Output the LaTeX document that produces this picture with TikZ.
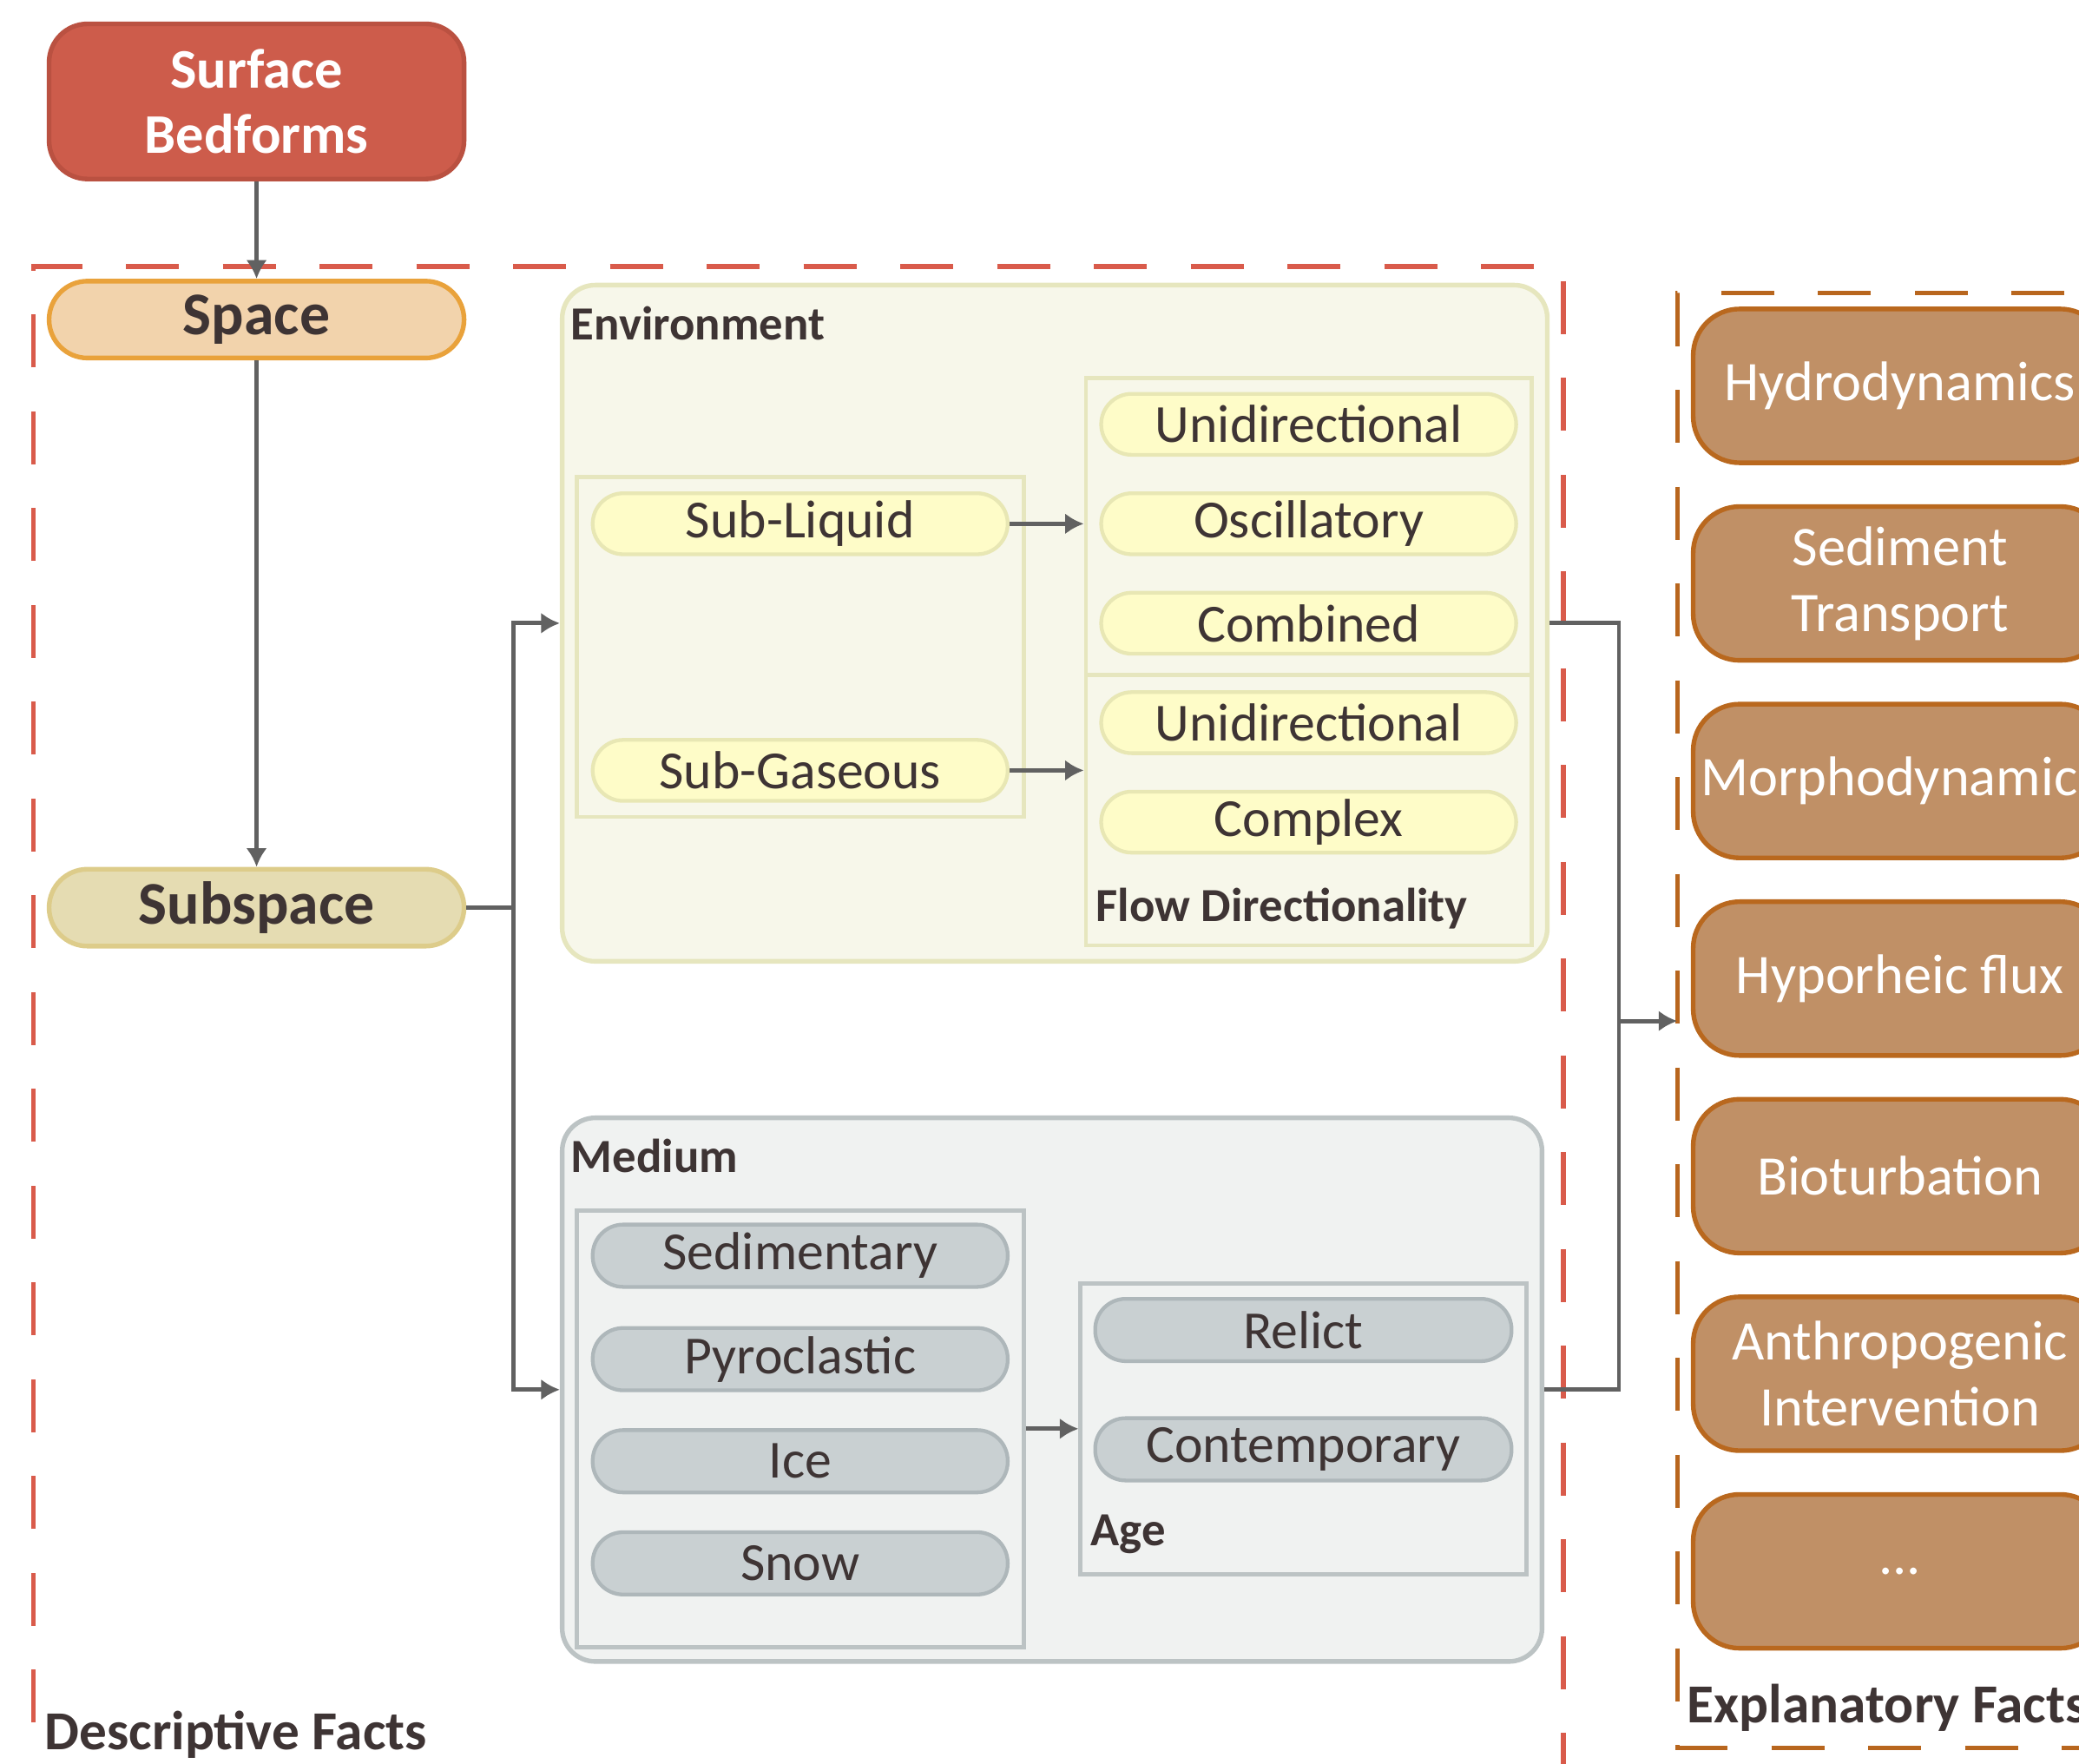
\documentclass[tikz,border=0pt]{standalone}
\usepackage{fontspec}
\setmainfont{Carlito}
\usepackage{xcolor}
\usetikzlibrary{arrows.meta, positioning, calc}

\definecolor{txtdark}{HTML}{3E3434}
\definecolor{linkgrey}{HTML}{616161}
\definecolor{sbfill}{HTML}{CD5C4B}
\definecolor{sbedge}{HTML}{BA5141}
\definecolor{spacefill}{HTML}{F2D3AC}
\definecolor{spaceedge}{HTML}{E9A23B}
\definecolor{subfill}{HTML}{E5DCB2}
\definecolor{subedge}{HTML}{DDCC8A}
\definecolor{envfill}{HTML}{F7F7EA}
\definecolor{envedge}{HTML}{E6E6BE}
\definecolor{envpillfill}{HTML}{FEFCC8}
\definecolor{envpilledge}{HTML}{E8E7B4}
\definecolor{medfill}{HTML}{F0F2F1}
\definecolor{mededge}{HTML}{BCC3C4}
\definecolor{medpillfill}{HTML}{C9D0D2}
\definecolor{medpilledge}{HTML}{AEB7BA}
\definecolor{explfill}{HTML}{C09066}
\definecolor{expledge}{HTML}{B9681E}
\definecolor{descdash}{HTML}{D95B4B}
\definecolor{expldash}{HTML}{B8661E}

\begin{document}
\begin{tikzpicture}[
    >=Latex,
    every node/.style={text=txtdark, font=\fontsize{11.5}{14}\selectfont},
    link/.style={draw=linkgrey, line width=0.9pt},
    arrowlink/.style={link, -{Latex[length=4pt,width=4.5pt]}},
    pill/.style={draw, line width=0.8pt, rounded corners=0.23cm,
        minimum width=3.13cm, minimum height=0.46cm, inner sep=0pt},
    envpill/.style={pill, fill=envpillfill, draw=envpilledge},
    medpill/.style={pill, fill=medpillfill, draw=medpilledge, minimum height=0.47cm},
    groupbox/.style={line width=1pt, inner sep=0pt},
    innerbox/.style={line width=0.9pt, inner sep=0pt, minimum width=3.37cm},
    grouplabel/.style={anchor=west, inner sep=0pt, font=\bfseries\fontsize{10.2}{12}\selectfont},
    factlabel/.style={anchor=west, inner sep=0pt, font=\bfseries\fontsize{11.8}{14}\selectfont},
    topbox/.style={draw, line width=1pt, rounded corners=0.29cm, minimum width=3.13cm,
        minimum height=0.58cm, inner sep=0pt, font=\bfseries\fontsize{13}{15}\selectfont},
    explbox/.style={draw=expledge, fill=explfill, line width=1pt, rounded corners=0.35cm,
        minimum width=3.12cm, minimum height=1.16cm, inner sep=0pt, align=center,
        text=white, font=\fontsize{12}{14.2}\selectfont},
    factframe/.style={line width=1pt, dash pattern=on 0.40cm off 0.33cm}
]

\useasboundingbox (0,0) rectangle (15.68,-13.30);
\clip (0,0) rectangle (15.68,-13.30);

% Frames
\draw[factframe, draw=descdash, dash phase=0.12cm] (0.25,-13.60) -- (0.25,-2.01) -- (11.79,-2.01) -- (11.79,-13.60);
\draw[factframe, draw=expldash, dash phase=0.10cm] (16.20,-2.21) -- (12.65,-2.21) -- (12.65,-13.18) -- (16.20,-13.18);

% Left column
\node[topbox, fill=sbfill, draw=sbedge, minimum height=1.17cm, text=white,
    align=center, font=\bfseries\fontsize{12}{14}\selectfont] (sb) at (1.935,-0.765) {Surface\\Bedforms};
\node[topbox, fill=spacefill, draw=spaceedge] (space) at (1.935,-2.41) {Space};
\node[topbox, fill=subfill, draw=subedge] (subspace) at (1.935,-6.845) {Subspace};

% Environment
\node[groupbox, draw=envedge, fill=envfill, rounded corners=0.25cm,
    minimum width=7.43cm, minimum height=5.10cm] (env) at (7.955,-4.70) {};
\node[grouplabel] (envlabel) at (4.30,-2.44) {Environment};
\node[innerbox, draw=envedge, fill=envfill, minimum height=2.56cm] (envsub) at (6.035,-4.88) {};
\node[innerbox, draw=envedge, fill=envfill, minimum width=3.36cm, minimum height=2.24cm] (flowup) at (9.87,-3.97) {};
\node[innerbox, draw=envedge, fill=envfill, minimum width=3.36cm, minimum height=2.04cm] (flowdown) at (9.87,-6.11) {};

\node[envpill] (liquid) at (6.035,-3.95) {Sub-Liquid};
\node[envpill] (gaseous) at (6.035,-5.81) {Sub-Gaseous};

\node[envpill] (uni1) at (9.87,-3.20) {Unidirectional};
\node[envpill] (osc) at (9.87,-3.95) {Oscillatory};
\node[envpill] (comb) at (9.87,-4.70) {Combined};
\node[envpill] (uni2) at (9.87,-5.45) {Unidirectional};
\node[envpill] (complex) at (9.87,-6.20) {Complex};
\node[grouplabel] (flowlabel) at (8.26,-6.85) {Flow Directionality};

% Medium
\node[groupbox, draw=mededge, fill=medfill, rounded corners=0.25cm,
    minimum width=7.39cm, minimum height=4.10cm] (medium) at (7.935,-10.48) {};
\node[grouplabel] (medlabel) at (4.30,-8.72) {Medium};
\node[innerbox, draw=mededge, fill=medfill, minimum height=3.29cm] (medsub) at (6.035,-10.775) {};
\node[innerbox, draw=mededge, fill=medfill, minimum width=3.36cm, minimum height=2.19cm] (agebox) at (9.83,-10.775) {};

\node[medpill] (sed) at (6.035,-9.47) {Sedimentary};
\node[medpill] (pyro) at (6.035,-10.25) {Pyroclastic};
\node[medpill] (ice) at (6.035,-11.02) {Ice};
\node[medpill] (snow) at (6.035,-11.79) {Snow};

\node[medpill, minimum width=3.14cm] (relict) at (9.83,-10.03) {Relict};
\node[medpill, minimum width=3.14cm] (contemp) at (9.83,-10.93) {Contemporary};
\node[grouplabel] (agelabel) at (8.22,-11.57) {Age};

% Explanatory facts
\node[explbox] (hydro) at (14.33,-2.91) {Hydrodynamics};
\node[explbox] (sedtr) at (14.33,-4.40) {Sediment\\Transport};
\node[explbox] (morpho) at (14.33,-5.89) {Morphodynamics};
\node[explbox] (hypo) at (14.33,-7.38) {Hyporheic flux};
\node[explbox] (biot) at (14.33,-8.87) {Bioturbation};
\node[explbox] (anthro) at (14.33,-10.36) {Anthropogenic\\Intervention};
\node[explbox] (etc) at (14.33,-11.85) {...};

\node[factlabel] (desclabel) at (0.33,-13.08) {Descriptive Facts};
\node[factlabel] (expllabel) at (12.72,-12.88) {Explanatory Facts};

% Bus points
\coordinate (busL) at (3.87,-6.845);
\coordinate (busR) at (12.21,-7.70);
\coordinate (explin) at (12.65,-7.70);

% Connectors
\draw[arrowlink] (sb) -- (space);
\draw[arrowlink] (space) -- (subspace);
\draw[link] (subspace.east) -- (busL);
\draw[arrowlink] (busL) |- (env.west);
\draw[arrowlink] (busL) |- (medium.west);

\draw[arrowlink] (liquid.east) -- (liquid.east -| flowup.west);
\draw[arrowlink] (gaseous.east) -- (gaseous.east -| flowdown.west);
\draw[arrowlink] (medsub.east) -- (agebox.west);

\draw[link] (env.east) -| (busR);
\draw[link] (medium.east) -| (busR);
\draw[arrowlink] (busR) -- (explin);

\end{tikzpicture}
\end{document}
